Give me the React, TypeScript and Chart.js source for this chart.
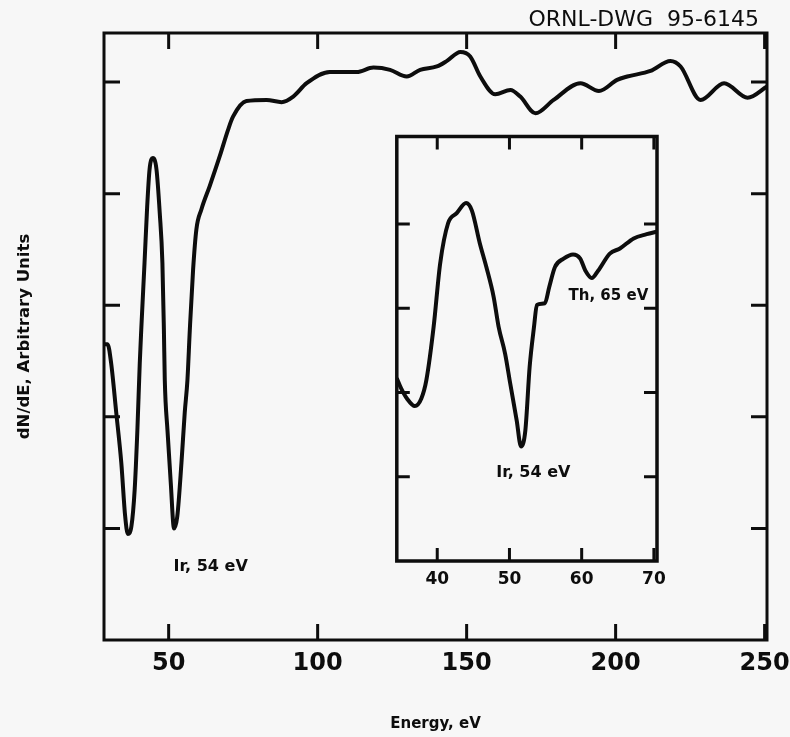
import React, { useEffect, useRef } from 'react';
import { Chart, registerables } from 'chart.js';

Chart.register(...registerables);

// ---- main spectrum ----
const mainEnergy = [
  28.3, 29.5, 30.7, 32.4, 34.1, 35.4, 36.3, 37.5, 38.6, 39.5,
  40.3, 40.8, 41.9, 42.8, 43.6, 44.7, 45.9, 47.0, 47.9, 48.4,
  48.7, 49.6, 50.7, 51.8, 52.9, 54.3, 55.4, 56.3, 57.1, 58.2,
  59.3, 61.0, 63.8, 67.2, 69.9, 71.6, 76.1, 82.9, 87.9, 91.8,
  96.3, 104.1, 113.1, 118.7, 124.3, 129.9, 134.4, 140.0, 143.4, 147.9,
  151.2, 154.6, 159.6, 164.7, 168.0, 173.1, 179.2, 188.2, 194.4, 200.5,
  203.9, 211.7, 218.4, 221.8, 228.5, 236.4, 244.3, 250.8,
];
const mainSignal = [
  2.65, 2.65, 2.48, 2.04, 1.59, 1.11, 0.95, 1.02, 1.35, 1.88,
  2.48, 2.78, 3.38, 3.89, 4.22, 4.32, 4.22, 3.83, 3.38, 2.78,
  2.33, 1.88, 1.41, 1.0, 1.11, 1.59, 2.04, 2.33, 2.78, 3.32,
  3.68, 3.86, 4.07, 4.34, 4.57, 4.69, 4.83, 4.84, 4.82, 4.87,
  4.99, 5.09, 5.09, 5.13, 5.11, 5.05, 5.11, 5.14, 5.19, 5.27,
  5.23, 5.05, 4.89, 4.93, 4.87, 4.72, 4.84, 4.99, 4.92, 5.02,
  5.05, 5.1, 5.19, 5.14, 4.84, 4.99, 4.86, 4.96,
];
const mainXTicks = [50, 100, 150, 200, 250];
const mainYTicks = [1, 2, 3, 4, 5];

// ---- inset spectrum ----
const insetEnergy = [
  34.4, 35.0, 35.8, 36.9, 37.8, 38.5, 39.5, 40.4, 41.5, 42.7,
  44.0, 44.8, 45.9, 46.8, 47.8, 48.5, 49.4, 50.1, 51.0, 51.6,
  52.2, 52.8, 53.4, 53.8, 54.9, 55.5, 56.3, 57.5, 58.8, 59.8,
  60.5, 61.4, 62.3, 63.9, 65.3, 67.2, 69.0, 70.4,
];
const insetSignal = [
  2.17, 2.05, 1.93, 1.84, 1.93, 2.15, 2.78, 3.53, 4.01, 4.13,
  4.25, 4.16, 3.77, 3.49, 3.14, 2.78, 2.46, 2.11, 1.67, 1.36,
  1.55, 2.31, 2.78, 3.04, 3.06, 3.25, 3.49, 3.59, 3.64, 3.59,
  3.45, 3.36, 3.45, 3.65, 3.71, 3.83, 3.88, 3.91,
];
const insetXTicks = [40, 50, 60, 70];
const insetYTicks = [1, 2, 3, 4];

const INK = '#0d0d0d';
const BG = '#f7f7f7';

const framePlugin = {
  id: 'frame',
  afterDatasetsDraw(chart: any, _args: any, opts: any) {
    const { ctx, chartArea, scales } = chart;
    const { left, right, top, bottom } = chartArea;
    const xs = scales.x;
    const ys = scales.y;
    ctx.save();
    ctx.strokeStyle = INK;
    ctx.lineWidth = opts.frameWidth;
    ctx.strokeRect(left, top, right - left, bottom - top);
    ctx.lineWidth = opts.tickWidth;
    ctx.beginPath();
    const L = opts.tickLen;
    for (const v of opts.xTicks) {
      if (v <= xs.min || v >= xs.max) continue;
      const p = xs.getPixelForValue(v);
      ctx.moveTo(p, bottom);
      ctx.lineTo(p, bottom - L);
      ctx.moveTo(p, top);
      ctx.lineTo(p, top + L);
    }
    for (const v of opts.yTicks) {
      if (v <= ys.min || v >= ys.max) continue;
      const p = ys.getPixelForValue(v);
      ctx.moveTo(left, p);
      ctx.lineTo(left + L, p);
      ctx.moveTo(right, p);
      ctx.lineTo(right - L, p);
    }
    ctx.stroke();
    ctx.fillStyle = INK;
    ctx.textAlign = 'center';
    ctx.textBaseline = 'middle';
    for (const a of opts.labels || []) {
      ctx.font = a.font;
      ctx.fillText(a.text, xs.getPixelForValue(a.x), ys.getPixelForValue(a.y));
    }
    if (opts.header) {
      ctx.font = opts.header.font;
      ctx.textAlign = 'right';
      ctx.fillText(opts.header.text, right - 8, top - 13);
    }
    ctx.restore();
  },
};

const setTicks = (arr: number[]) => (s: any) => {
  s.ticks = arr.map((v) => ({ value: v }));
};

export default function App() {
  const mainRef = useRef<HTMLCanvasElement>(null);
  const insetRef = useRef<HTMLCanvasElement>(null);

  useEffect(() => {
    const main = new Chart(mainRef.current as HTMLCanvasElement, {
      type: 'line',
      data: {
        datasets: [
          {
            data: mainEnergy.map((x, i) => ({ x, y: mainSignal[i] })),
            borderColor: INK,
            borderWidth: 4,
            pointRadius: 0,
            fill: false,
            cubicInterpolationMode: 'monotone',
          },
        ],
      },
      options: {
        animation: false,
        responsive: false,
        maintainAspectRatio: false,
        layout: { padding: { top: 33, right: 23, left: 0, bottom: 0 } },
        plugins: {
          legend: { display: false },
          tooltip: { enabled: false },
          frame: {
            frameWidth: 3,
            tickWidth: 3,
            tickLen: 16,
            xTicks: mainXTicks,
            yTicks: mainYTicks,
            labels: [{ text: 'Ir, 54 eV', x: 64.1, y: 0.66, font: 'bold 16px "DejaVu Sans"' }],
            header: { text: 'ORNL-DWG  95-6145', font: '22px "DejaVu Sans"' },
          },
        } as any,
        scales: {
          x: {
            type: 'linear',
            min: 28.3,
            max: 250.8,
            afterBuildTicks: setTicks(mainXTicks),
            afterFit: (s: any) => {
              s.height = 97;
              s.paddingLeft = 0;
              s.paddingRight = 0;
            },
            grid: { display: false, drawTicks: false },
            border: { display: false },
            ticks: {
              color: INK,
              padding: 9,
              maxRotation: 0,
              autoSkip: false,
              font: { family: 'DejaVu Sans', size: 24, weight: 'bold' },
            },
            title: {
              display: true,
              text: 'Energy, eV',
              color: INK,
              font: { family: 'DejaVu Sans', size: 15, weight: 'bold' },
              padding: { top: 0, bottom: 4 },
            },
          },
          y: {
            type: 'linear',
            min: 0,
            max: 5.44,
            afterBuildTicks: setTicks(mainYTicks),
            afterFit: (s: any) => {
              s.width = 104;
              s.paddingTop = 0;
              s.paddingBottom = 0;
            },
            grid: { display: false, drawTicks: false },
            border: { display: false },
            ticks: { display: false },
            title: {
              display: true,
              text: 'dN/dE, Arbitrary Units',
              color: INK,
              font: { family: 'DejaVu Sans', size: 16.5, weight: 'bold' },
              padding: { top: 15, bottom: 0 },
            },
          },
        },
      },
      plugins: [framePlugin],
    } as any);

    const inset = new Chart(insetRef.current as HTMLCanvasElement, {
      type: 'line',
      data: {
        datasets: [
          {
            data: insetEnergy.map((x, i) => ({ x, y: insetSignal[i] })),
            borderColor: INK,
            borderWidth: 4,
            pointRadius: 0,
            fill: false,
            cubicInterpolationMode: 'monotone',
          },
        ],
      },
      options: {
        animation: false,
        responsive: false,
        maintainAspectRatio: false,
        layout: { padding: { top: 16.5, right: 13, left: 16.8, bottom: 0 } },
        plugins: {
          legend: { display: false },
          tooltip: { enabled: false },
          frame: {
            frameWidth: 3.5,
            tickWidth: 3,
            tickLen: 13,
            xTicks: insetXTicks,
            yTicks: insetYTicks,
            labels: [
              { text: 'Th, 65 eV', x: 63.7, y: 3.14, font: 'bold 15px "DejaVu Sans"' },
              { text: 'Ir, 54 eV', x: 53.3, y: 1.05, font: 'bold 16px "DejaVu Sans"' },
            ],
          },
        } as any,
        scales: {
          x: {
            type: 'linear',
            min: 34.4,
            max: 70.43,
            afterBuildTicks: setTicks(insetXTicks),
            afterFit: (s: any) => {
              s.height = 39;
              s.paddingLeft = 0;
              s.paddingRight = 0;
            },
            grid: { display: false, drawTicks: false },
            border: { display: false },
            ticks: {
              color: INK,
              padding: 8,
              maxRotation: 0,
              autoSkip: false,
              font: { family: 'DejaVu Sans', size: 17, weight: 'bold' },
            },
          },
          y: {
            type: 'linear',
            display: false,
            min: 0,
            max: 5.04,
            afterBuildTicks: setTicks(insetYTicks),
          },
        },
      },
      plugins: [framePlugin],
    } as any);

    return () => {
      main.destroy();
      inset.destroy();
    };
  }, []);

  return (
    <div
      style={{
        position: 'absolute',
        left: 0,
        top: 0,
        width: 790,
        height: 737,
        background: BG,
        overflow: 'hidden',
      }}
    >
      <canvas
        ref={mainRef}
        width={790}
        height={737}
        style={{ position: 'absolute', left: 0, top: 0, width: 790, height: 737, display: 'block' }}
      />
      <canvas
        ref={insetRef}
        width={290}
        height={480}
        style={{ position: 'absolute', left: 380, top: 120, width: 290, height: 480, display: 'block' }}
      />
    </div>
  );
}
